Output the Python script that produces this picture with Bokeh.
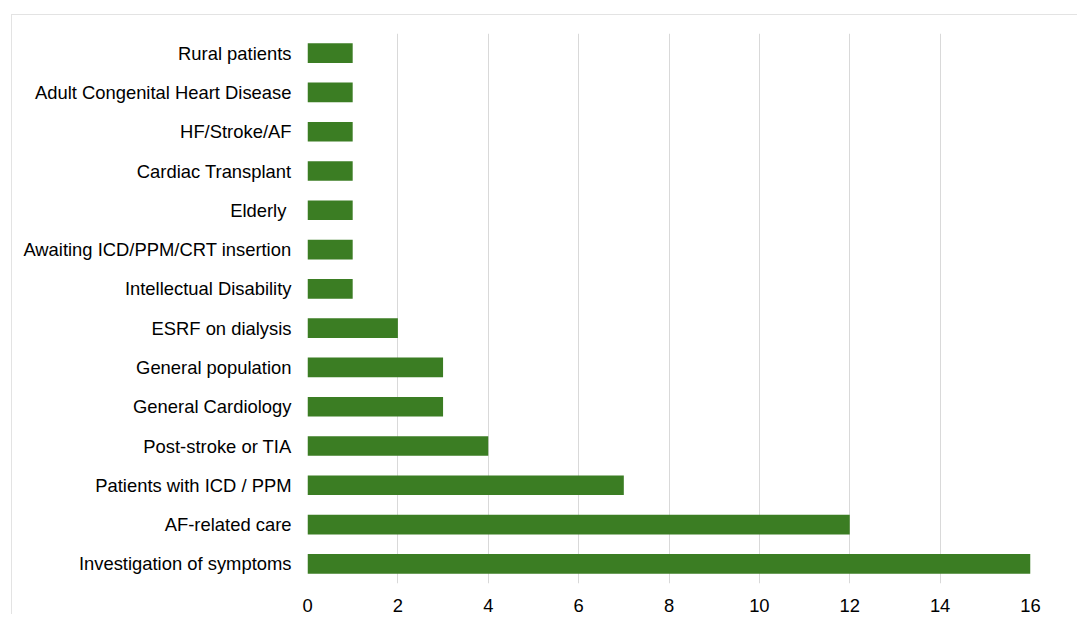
from bokeh.plotting import figure
from bokeh.models import FactorRange, Range1d, FixedTicker, ColumnDataSource
from bokeh.embed import file_html
from bokeh.resources import INLINE

categories = [
    "Rural patients",
    "Adult Congenital Heart Disease",
    "HF/Stroke/AF",
    "Cardiac Transplant",
    "Elderly ",
    "Awaiting ICD/PPM/CRT insertion",
    "Intellectual Disability",
    "ESRF on dialysis",
    "General population",
    "General Cardiology",
    "Post-stroke or TIA",
    "Patients with ICD / PPM",
    "AF-related care",
    "Investigation of symptoms",
]
values = [1, 1, 1, 1, 1, 1, 1, 2, 3, 3, 4, 7, 12, 16]
x_ticks = [0, 2, 4, 6, 8, 10, 12, 14, 16]

source = ColumnDataSource(data=dict(cat=categories, val=values))

p = figure(
    width=1066, height=600,
    y_range=FactorRange(factors=list(reversed(categories)), range_padding=0),
    x_range=Range1d(0, 16),
    output_backend="svg", toolbar_location=None,
    min_border_left=295, min_border_right=48, min_border_top=18, min_border_bottom=32,
)
p.margin = (14, 0, 0, 11)
p.styles = {"border-top": "1px solid #e3e3e3", "border-left": "1px solid #e3e3e3"}

p.hbar(y="cat", right="val", left=0, height=0.5, source=source,
       fill_color="#3b7d23", line_color=None)

p.outline_line_color = None
p.background_fill_color = "white"
p.border_fill_color = "white"

p.ygrid.grid_line_color = None
p.xgrid.grid_line_color = "#d9d9d9"
p.xgrid.grid_line_width = 1
p.xgrid.ticker = FixedTicker(ticks=x_ticks)

p.xaxis.ticker = FixedTicker(ticks=x_ticks)
p.xaxis.axis_line_color = None
p.xaxis.major_tick_line_color = None
p.xaxis.minor_tick_line_color = None
p.xaxis.major_tick_out = 0
p.xaxis.major_label_standoff = 15
p.xaxis.major_label_text_font = "Liberation Sans"
p.xaxis.major_label_text_font_size = "18.4px"
p.xaxis.major_label_text_color = "#000000"

p.yaxis.axis_line_color = None
p.yaxis.major_tick_line_color = None
p.yaxis.minor_tick_line_color = None
p.yaxis.major_tick_out = 0
p.yaxis.major_label_standoff = 16
p.yaxis.major_label_text_font = "Liberation Sans"
p.yaxis.major_label_text_font_size = "18.4px"
p.yaxis.major_label_text_color = "#000000"

open("out.html", "w").write(file_html(p, INLINE))
